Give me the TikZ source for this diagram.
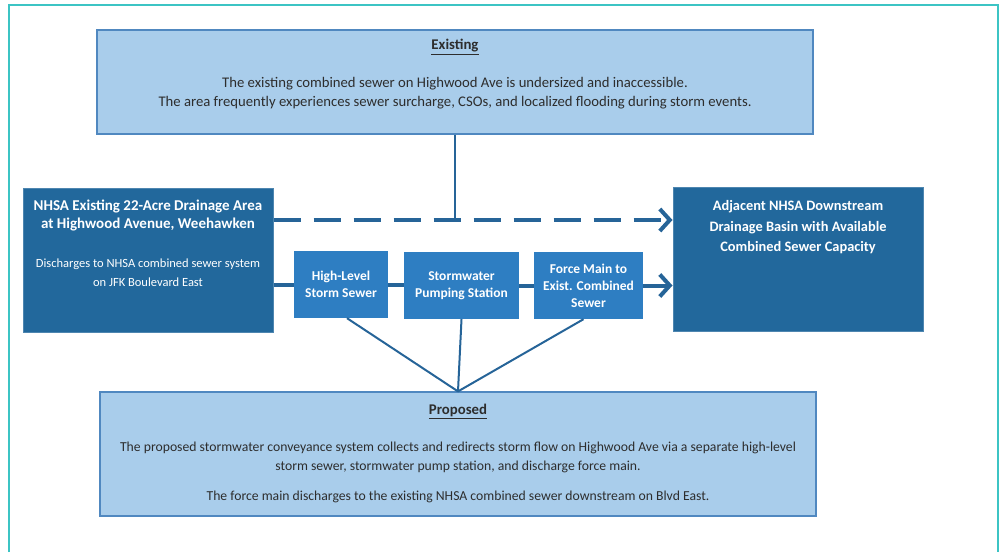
\documentclass[tikz,border=0pt]{standalone}
\usepackage{fontspec}
\setmainfont{Carlito}
\usetikzlibrary{arrows.meta}
\definecolor{framecol}{RGB}{60,196,196}
\definecolor{lightbox}{RGB}{169,205,235}
\definecolor{lightedge}{RGB}{80,136,192}
\definecolor{darkbox}{RGB}{34,104,156}
\definecolor{midbox}{RGB}{46,126,194}
\definecolor{linecol}{RGB}{38,100,152}
\definecolor{textgray}{RGB}{45,45,45}

\begin{document}
\begin{tikzpicture}[x=1pt,y=-1pt]
	\useasboundingbox (0,0) rectangle (1002,552);
	\draw[framecol, line width=2pt] (9,552) -- (9,5) -- (998,5) -- (998,552);

	\begin{scope}[every node/.style={draw=lightedge, fill=lightbox, line width=1.2pt, minimum width=716pt}]
		\node (existing) at (455,82) [minimum height=104pt] {};
		\node (proposed) at (458,454) [minimum height=124pt] {};
	\end{scope}

	\begin{scope}[every node/.style={draw=darkbox!80!white, fill=darkbox, line width=1pt, minimum width=250pt, minimum height=144pt}]
		\node (area) at (148,260) {};
		\node (basin) at (798,259) {};
	\end{scope}

	\begin{scope}[every node/.style={fill=midbox, minimum height=67pt, text=white, align=center,
	              font=\fontsize{13.5}{17}\selectfont\bfseries}]
		\node (sewer) at (341,284.5) [minimum width=94pt] {High-Level\\Storm Sewer};
		\node (pump) at (461.5,285.5) [minimum width=115pt] {Stormwater\\Pumping Station};
		\node (force) at (588.5,285.5) [minimum width=109pt] {Force Main to\\Exist. Combined\\Sewer};
	\end{scope}

	\begin{scope}[every node/.style={text=textgray, align=center, font=\fontsize{13.7}{19}\selectfont}]
		\node (existing title) at (455,47) [font=\fontsize{14.8}{19}\selectfont\bfseries] {\underline{Existing}};
		\node (existing text) at (455,93.5) [font=\fontsize{14.7}{19}\selectfont] {The existing combined sewer on Highwood Ave is undersized and inaccessible.\\
			The area frequently experiences sewer surcharge, CSOs, and localized flooding during storm events.};
		\node (proposed title) at (458,411) [font=\fontsize{14.8}{19}\selectfont\bfseries] {\underline{Proposed}};
		\node (proposed text) at (458,472.5) {The proposed stormwater conveyance system collects and redirects storm flow on Highwood Ave via a separate high-level\\
			storm sewer, stormwater pump station, and discharge force main.\\[11pt]
			The force main discharges to the existing NHSA combined sewer downstream on Blvd East.};
	\end{scope}

	\begin{scope}[every node/.style={text=white, align=center}]
		\node (area title) at (148,215) [font=\fontsize{15}{18}\selectfont\bfseries] {NHSA Existing 22-Acre Drainage Area\\at Highwood Avenue, Weehawken};
		\node (area text) at (148,272.5) [font=\fontsize{12.5}{19}\selectfont] {Discharges to NHSA combined sewer system\\on JFK Boulevard East};
		\node (basin text) at (798,227.5) [font=\fontsize{14.4}{20.5}\selectfont\bfseries] {Adjacent NHSA Downstream\\Drainage Basin with Available\\Combined Sewer Capacity};
	\end{scope}

	\coordinate (dash start) at ([yshift=40pt]area.east);

	\begin{scope}[every edge/.style={draw=linecol}]
		\path (existing.south) edge[line width=2pt] (existing.south |- dash start);
		\path (dash start) edge[line width=4pt, dash pattern=on 27pt off 13pt, -{Straight Barb[length=10pt,width=22pt]}] (dash start -| basin.west);
		\path (sewer.west -| area.east) edge[line width=4pt] (sewer.west);
		\path (sewer.east) edge[line width=4pt] (sewer.east -| pump.west);
		\path (pump.east) edge[line width=4pt] (force.west);
		\path (force.east) edge[line width=4pt, -{Straight Barb[length=10pt,width=22pt]}] (force.east -| basin.west);
		\path ([xshift=6pt]sewer.south) edge[line width=2pt] (proposed.north);
		\path (pump.south) edge[line width=2pt] (proposed.north);
		\path ([xshift=-5pt]force.south) edge[line width=2pt] (proposed.north);
	\end{scope}
\end{tikzpicture}
\end{document}
